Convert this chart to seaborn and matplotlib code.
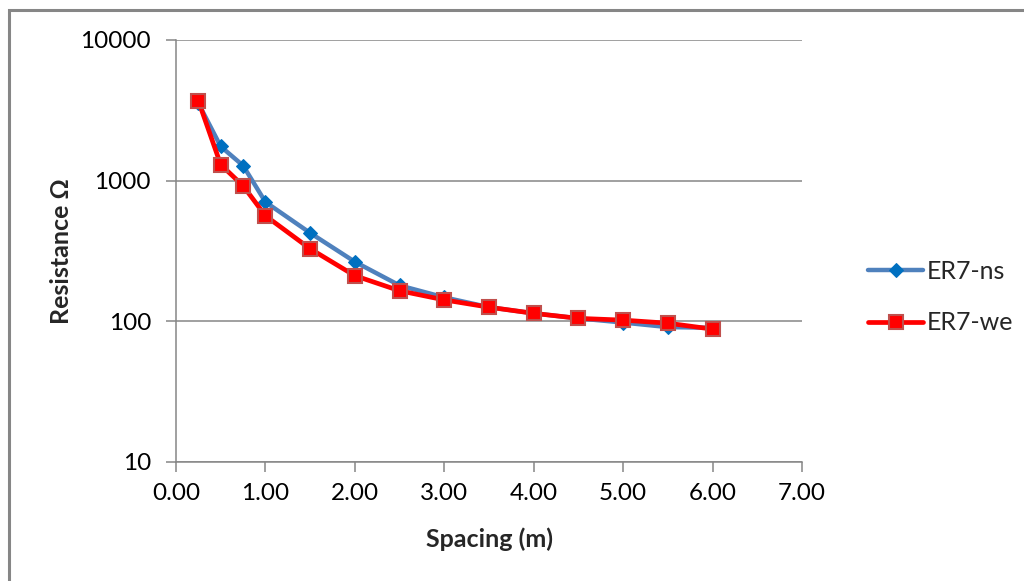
import matplotlib
matplotlib.use("Agg")
import matplotlib.pyplot as plt
import matplotlib.ticker as mticker
from matplotlib.patches import Rectangle
import seaborn as sns
import pandas as pd

spacing = [0.25, 0.5, 0.75, 1.0, 1.5, 2.0, 2.5, 3.0, 3.5, 4.0, 4.5, 5.0, 5.5, 6.0]
er7_ns = [3550, 1750, 1280, 705, 425, 265, 180, 148, 126, 114, 105, 98, 91, 90]
er7_we = [3700, 1300, 920, 563, 328, 211, 165, 142, 126, 114, 105, 102, 97, 88]
series_names = ["ER7-ns", "ER7-we"]
y_ticks = [10, 100, 1000, 10000]
x_ticks = [0, 1, 2, 3, 4, 5, 6, 7]

sns.set_theme(style="white")
plt.rcParams['font.family'] = ['Lato', 'DejaVu Sans']

fig = plt.figure(figsize=(10.24, 5.81), dpi=100)
ax = fig.add_axes([176/1024, 1-462/581, (802-176)/1024, (462-40)/581])

df_ns = pd.DataFrame({"Spacing": spacing, "Resistance": er7_ns})
df_we = pd.DataFrame({"Spacing": spacing, "Resistance": er7_we})

sns.lineplot(data=df_ns, x="Spacing", y="Resistance", ax=ax, color="#4F81BD",
             lw=3.2, marker="D", markersize=7.5, markerfacecolor="#0070C0",
             markeredgecolor="#0070C0", label=series_names[0], zorder=3)
sns.lineplot(data=df_we, x="Spacing", y="Resistance", ax=ax, color="#FF0000",
             lw=3.4, marker="s", markersize=10.5, markerfacecolor="#FF0000",
             markeredgecolor="#C0504D", markeredgewidth=1.5,
             label=series_names[1], zorder=4)

ax.set_yscale("log")
ax.set_ylim(10, 10000)
ax.set_xlim(0, 7)
ax.set_yticks(y_ticks)
ax.yaxis.set_major_formatter(mticker.FuncFormatter(lambda v, p: f"{int(v)}"))
ax.yaxis.set_minor_locator(mticker.NullLocator())
ax.set_xticks(x_ticks)
ax.xaxis.set_major_formatter(mticker.FuncFormatter(lambda v, p: f"{v:.2f}"))

ax.grid(axis="y", color="#868686", lw=1.1)
ax.grid(axis="x", visible=False)
for s in ["top", "right"]:
    ax.spines[s].set_visible(False)
for s in ["left", "bottom"]:
    ax.spines[s].set_color("#868686")
    ax.spines[s].set_linewidth(1.1)

ax.tick_params(axis="both", which="major", length=7, width=1.1, color="#868686",
               labelsize=17.5, labelcolor="black", direction="out")
ax.tick_params(axis="y", pad=11, left=True)
ax.tick_params(axis="x", pad=8, bottom=True)

ax.set_xlabel("Spacing (m)", fontsize=18, fontweight="bold", labelpad=17)
ax.set_ylabel("Resistance Ω", fontsize=18, fontweight="bold", labelpad=5)

leg = ax.legend(loc="center left", bbox_to_anchor=(0.826, 0.489),
                bbox_transform=fig.transFigure, frameon=False, fontsize=18,
                handlelength=2.2, labelspacing=1.15, handletextpad=0.15)

fig.patches.append(Rectangle((9/1024, -0.1), 1.2, 1 - 10/581 + 0.1,
                             transform=fig.transFigure, fill=False,
                             edgecolor="#868686", lw=2.2, zorder=0))

fig.savefig("out.png", dpi=100, facecolor="white")
